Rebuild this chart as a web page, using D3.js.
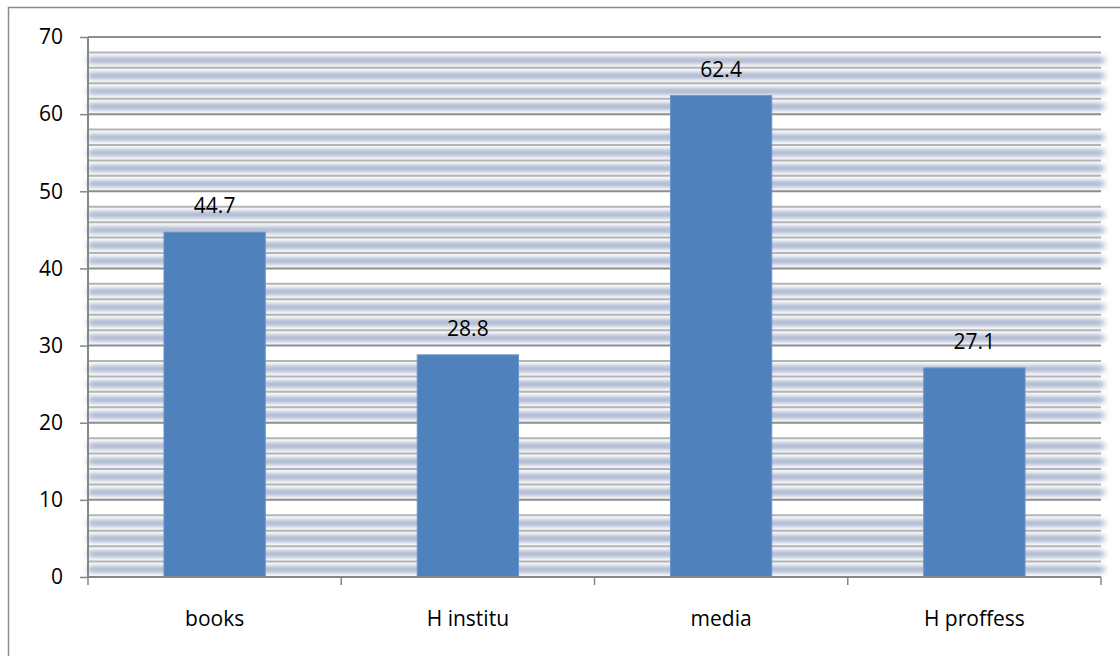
<!DOCTYPE html>
<html>
<head>
<meta charset="utf-8">
<script src="https://cdn.jsdelivr.net/npm/d3@7"></script>
<style>
  body { margin: 0; background: #fff; }
  text { font-family: "Open Sans", "Liberation Sans", Arial, sans-serif; fill: #000; }
</style>
</head>
<body>
<div id="chart"></div>
<script>
var categories = ["books", "H institu", "media", "H proffess"];
var values = [44.7, 28.8, 62.4, 27.1];
var yTicks = [0, 10, 20, 30, 40, 50, 60, 70];
var minorTicks = d3.range(2, 70, 2).filter(function(v) { return v % 10 !== 0; });

var W = 1120, H = 656;
var margin = {top: 37, right: 19, bottom: 79, left: 88},
    width = W - margin.left - margin.right,
    height = H - margin.top - margin.bottom;

var svg = d3.select("#chart").append("svg")
    .attr("width", W)
    .attr("height", H);

var defs = svg.append("defs");
defs.append("filter")
    .attr("id", "soft")
    .attr("x", "-5%").attr("y", "-200%")
    .attr("width", "110%").attr("height", "500%")
  .append("feGaussianBlur")
    .attr("stdDeviation", "3 2.4");

// outer chart border
svg.append("rect")
    .attr("x", 8.5).attr("y", 7.5)
    .attr("width", W).attr("height", H)
    .attr("fill", "none")
    .attr("stroke", "#8c8c8c")
    .attr("stroke-width", 1.5);

var g = svg.append("g")
    .attr("transform", "translate(" + margin.left + "," + margin.top + ")");

var x = d3.scaleBand()
    .domain(categories)
    .range([0, width])
    .paddingInner(0.6)
    .paddingOuter(0.3);

var xb = d3.scaleBand()
    .domain(categories)
    .range([0, width]);

var y = d3.scaleLinear()
    .domain([0, 70])
    .range([height, 0]);

var step = y(0) - y(2);

// soft shaded bands under the minor gridlines
g.append("g")
    .attr("filter", "url(#soft)")
  .selectAll("rect")
    .data(minorTicks)
  .enter().append("rect")
    .attr("x", 0)
    .attr("width", width + 3)
    .attr("y", function(d) { return y(d) + step * 0.3; })
    .attr("height", step * 0.42)
    .attr("fill", "#a2afcb");

// minor gridlines
g.append("g")
  .selectAll("line")
    .data(minorTicks)
  .enter().append("line")
    .attr("x1", 0).attr("x2", width)
    .attr("y1", function(d) { return y(d); })
    .attr("y2", function(d) { return y(d); })
    .attr("stroke", "#b4b4b4")
    .attr("stroke-width", 2);

// major gridlines
g.append("g")
  .selectAll("line")
    .data(yTicks.filter(function(d) { return d > 0; }))
  .enter().append("line")
    .attr("x1", 0).attr("x2", width)
    .attr("y1", function(d) { return y(d); })
    .attr("y2", function(d) { return y(d); })
    .attr("stroke", "#8e8e8e")
    .attr("stroke-width", 2);

// bars
g.selectAll(".bar")
    .data(values)
  .enter().append("rect")
    .attr("class", "bar")
    .attr("x", function(d, i) { return x(categories[i]); })
    .attr("width", x.bandwidth())
    .attr("y", function(d) { return y(d); })
    .attr("height", function(d) { return y(0) - y(d); })
    .attr("fill", "#4f81bd")
    .attr("stroke", "#6b94c8")
    .attr("stroke-width", 1);

// value labels
g.selectAll(".val")
    .data(values)
  .enter().append("text")
    .attr("class", "val")
    .attr("x", function(d, i) { return x(categories[i]) + x.bandwidth() / 2; })
    .attr("y", function(d) { return y(d) - 19; })
    .attr("text-anchor", "middle")
    .style("font-size", "21px")
    .text(function(d) { return d.toFixed(1); });

// y axis
var yAxis = g.append("g")
    .call(d3.axisLeft(y).tickValues(yTicks).tickSize(8).tickPadding(17));
yAxis.select(".domain").remove();
yAxis.selectAll(".tick line").attr("stroke", "#868686").attr("stroke-width", 1.5);
yAxis.selectAll(".tick text").style("font-size", "21px");
g.append("line")
    .attr("x1", 0).attr("x2", 0)
    .attr("y1", 0).attr("y2", height)
    .attr("stroke", "#868686")
    .attr("stroke-width", 2);

// x axis
g.append("line")
    .attr("x1", 0).attr("x2", width)
    .attr("y1", height).attr("y2", height)
    .attr("stroke", "#868686")
    .attr("stroke-width", 2);

g.selectAll(".xtick")
    .data(categories.concat(["end"]))
  .enter().append("line")
    .attr("class", "xtick")
    .attr("x1", function(d, i) { return i < categories.length ? xb(d) : width; })
    .attr("x2", function(d, i) { return i < categories.length ? xb(d) : width; })
    .attr("y1", height)
    .attr("y2", height + 8)
    .attr("stroke", "#868686")
    .attr("stroke-width", 1.5);

g.selectAll(".xlab")
    .data(categories)
  .enter().append("text")
    .attr("class", "xlab")
    .attr("x", function(d) { return xb(d) + xb.bandwidth() / 2; })
    .attr("y", height + 49)
    .attr("text-anchor", "middle")
    .style("font-size", "21px")
    .text(function(d) { return d; });
</script>
</body>
</html>
